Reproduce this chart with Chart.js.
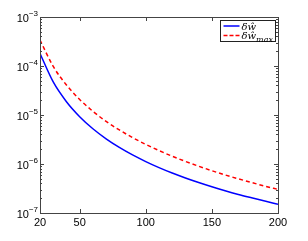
<!DOCTYPE html>
<html>
<head>
<meta charset="utf-8">
<script src="https://cdn.jsdelivr.net/npm/chart.js@4.4.1/dist/chart.umd.min.js"></script>
<style>
    html, body { margin: 0; padding: 0; background: #fff; }
    #wrap { width: 308px; height: 241px; }
</style>
</head>
<body>
<div id="wrap"><canvas id="errChart" width="308" height="241"></canvas></div>
<script>
// x positions (N)
const xValues = [20, 30, 40, 50, 60, 70, 80, 90, 100, 110, 120, 130, 140, 150, 160, 170, 180, 190, 200];
// delta w hat (blue, solid)
const dwHat = [1.8e-4, 4.72e-5, 1.87e-5, 9.25e-6, 5.25e-6, 3.27e-6, 2.18e-6, 1.53e-6, 1.12e-6, 8.43e-7,
    6.53e-7, 5.18e-7, 4.18e-7, 3.42e-7, 2.84e-7, 2.39e-7, 2.04e-7, 1.75e-7, 1.51e-7];
// delta w hat max (red, dashed)
const dwHatMax = [3.4e-4, 9.8e-5, 4.1e-5, 2.07e-5, 1.19e-5, 7.4e-6, 4.95e-6, 3.46e-6, 2.51e-6, 1.88e-6,
    1.44e-6, 1.13e-6, 9.0e-7, 7.3e-7, 5.98e-7, 4.99e-7, 4.19e-7, 3.54e-7, 3.03e-7];

const xTicks = [20, 50, 100, 150, 200];
const yExponents = [-7, -6, -5, -4, -3];

const frameColor = '#444';
const tickFont = '11px "Liberation Sans", Arial, sans-serif';
const expFont = '8px "Liberation Sans", Arial, sans-serif';

function toPoints(ys) {
    return xValues.map((x, i) => ({ x: x, y: ys[i] }));
}

// frame, inward ticks, tick labels and legend in MATLAB style
const matlabAxes = {
    id: 'matlabAxes',
    afterDraw(chart) {
        const ctx = chart.ctx;
        const a = chart.chartArea;
        const xs = chart.scales.x;
        const ys = chart.scales.y;
        ctx.save();

        // tick marks
        ctx.strokeStyle = frameColor;
        ctx.lineWidth = 1;
        ctx.beginPath();
        xTicks.forEach(t => {
            const px = Math.round(xs.getPixelForValue(t)) + 0.5;
            ctx.moveTo(px, a.bottom); ctx.lineTo(px, a.bottom - 4);
            ctx.moveTo(px, a.top); ctx.lineTo(px, a.top + 4);
        });
        yExponents.forEach(e => {
            for (let m = 1; m <= 9; m++) {
                const v = m * Math.pow(10, e);
                if (v > ys.max * 1.0001) break;
                const py = Math.round(ys.getPixelForValue(v)) + 0.5;
                const len = m === 1 ? 4 : 2;
                ctx.moveTo(a.left, py); ctx.lineTo(a.left + len, py);
                ctx.moveTo(a.right, py); ctx.lineTo(a.right - len, py);
            }
        });
        ctx.stroke();

        // frame
        ctx.strokeRect(Math.round(a.left) + 0.5, Math.round(a.top) + 0.5,
            Math.round(a.right - a.left), Math.round(a.bottom - a.top));

        // x labels
        ctx.fillStyle = '#000';
        ctx.font = tickFont;
        ctx.textAlign = 'center';
        ctx.textBaseline = 'top';
        xTicks.forEach(t => {
            ctx.fillText(String(t), xs.getPixelForValue(t), a.bottom + 4);
        });

        // y labels 10^e
        yExponents.forEach(e => {
            const py = ys.getPixelForValue(Math.pow(10, e));
            const expText = '\u2212' + Math.abs(e);
            ctx.font = expFont;
            const ew = ctx.measureText(expText).width;
            ctx.textAlign = 'left';
            ctx.textBaseline = 'alphabetic';
            const right = a.left - 2;
            ctx.fillText(expText, right - ew, py - 1);
            ctx.font = tickFont;
            ctx.textAlign = 'right';
            ctx.fillText('10', right - ew, py + 5);
        });

        // legend
        const lx = 220.5, ly = 20.5, lw = 55, lh = 21;
        ctx.fillStyle = '#fff';
        ctx.fillRect(lx, ly, lw, lh);
        ctx.strokeStyle = '#222';
        ctx.strokeRect(lx, ly, lw, lh);
        const rows = [
            { color: '#0000ff', dash: [], main: '\u03B4\u0175', sub: '' },
            { color: '#ff0000', dash: [4, 2], main: '\u03B4\u0175', sub: 'max' }
        ];
        rows.forEach((r, i) => {
            const cy = ly + 5.5 + i * 9.5;
            ctx.strokeStyle = r.color;
            ctx.lineWidth = 1.5;
            ctx.setLineDash(r.dash);
            ctx.beginPath();
            ctx.moveTo(lx + 3, cy); ctx.lineTo(lx + 19, cy);
            ctx.stroke();
            ctx.setLineDash([]);
            ctx.fillStyle = '#000';
            ctx.font = 'italic 10px "DejaVu Serif", serif';
            ctx.textAlign = 'left';
            ctx.textBaseline = 'alphabetic';
            ctx.fillText(r.main, lx + 21, cy + 3.5);
            if (r.sub) {
                const w = ctx.measureText(r.main).width;
                ctx.font = 'italic 8px "DejaVu Serif", serif';
                ctx.fillText(r.sub, lx + 21 + w, cy + 6);
            }
        });

        ctx.restore();
    }
};

const errChart = new Chart(document.getElementById('errChart'), {
    type: 'line',
    data: {
        datasets: [
            {
                label: '\u03B4\u0175',
                data: toPoints(dwHat),
                borderColor: '#0000ff',
                borderWidth: 1.5,
                pointRadius: 0,
                cubicInterpolationMode: 'monotone',
                fill: false
            },
            {
                label: '\u03B4\u0175 max',
                data: toPoints(dwHatMax),
                borderColor: '#ff0000',
                borderWidth: 1.5,
                borderDash: [4, 3],
                pointRadius: 0,
                cubicInterpolationMode: 'monotone',
                fill: false
            }
        ]
    },
    options: {
        responsive: false,
        animation: false,
        devicePixelRatio: 1,
        layout: {
            padding: { left: 40, right: 30, top: 17, bottom: 28 }
        },
        scales: {
            x: { type: 'linear', min: 20, max: 200, display: false },
            y: { type: 'logarithmic', min: 1e-7, max: 1e-3, display: false }
        },
        plugins: {
            legend: { display: false },
            tooltip: { enabled: false }
        }
    },
    plugins: [matlabAxes]
});
</script>
</body>
</html>
